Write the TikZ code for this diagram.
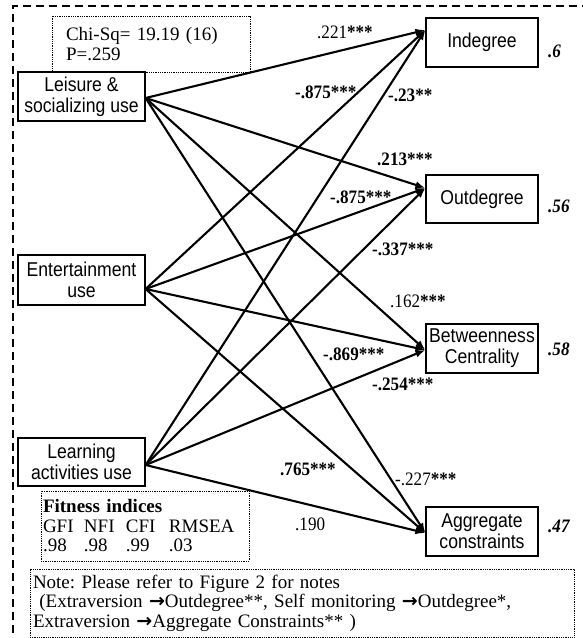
\documentclass[tikz,border=0pt]{standalone}
\usepackage{fontspec}
\setmainfont{Liberation Serif}
\newfontfamily\arialf[FakeStretch=0.88]{Liberation Sans}
\newfontfamily\timesn[FakeStretch=0.9]{Liberation Serif}
\newfontfamily\symf{DejaVu Sans}
\usetikzlibrary{arrows.meta,calc}
\newcommand\bxfont{\arialf\fontsize{20}{21}\selectfont}
\newcommand\cffont{\timesn\fontsize{19}{20}\selectfont}
\newcommand\infont{\frenchspacing\fontsize{19}{19.5}\selectfont}
\newcommand\rarr{{\symf\bfseries →}}
\begin{document}
\begin{tikzpicture}[x=1pt,y=-1pt,
  srcbox/.style={draw, line width=1.2pt, inner sep=0pt, align=center, font=\bxfont, minimum width=127pt},
  tgtbox/.style={draw, line width=1.2pt, inner sep=0pt, align=center, font=\bxfont, minimum width=112pt, minimum height=49pt},
  arr/.style={line width=2.1pt, -{Latex[length=10pt,width=7.5pt]}},
  coef/.style={anchor=base west, inner sep=0pt, font=\cffont},
  rsq/.style={anchor=base west, inner sep=0pt, font=\cffont\bfseries\itshape},
  infobox/.style={draw, densely dotted, line width=0.8pt, align=left, inner ysep=0pt, font=\infont},
  frame/.style={line width=1.1pt, dash pattern=on 8pt off 5pt}
]
\useasboundingbox (0,0) rectangle (583,638);
\draw[frame] (590,6) -- (13,6) -- (13,645);

% info boxes
\node[infobox, minimum width=198pt, minimum height=56pt, text width=170pt, inner xsep=14pt] (chi) at (151,44) {Chi-Sq= 19.19 (16)\\P=.259};
\node[infobox, minimum width=208pt, minimum height=70pt, text width=204pt, inner xsep=2pt] (fit) at (145,526)
  {\textbf{Fitness indices}\\
   \makebox[41pt][l]{GFI}\makebox[42pt][l]{NFI}\makebox[43pt][l]{CFI}RMSEA\\
   \makebox[41pt][l]{.98}\makebox[42pt][l]{.98}\makebox[43pt][l]{.99}.03};
\node[infobox, minimum width=544pt, minimum height=68pt, text width=538pt, inner xsep=3pt] (note) at (302,603)
  {Note: Please refer to Figure 2 for notes\\
   \ (Extraversion \rarr Outdegree**, Self monitoring \rarr Outdegree*,\\
   Extraversion \rarr Aggregate Constraints** )};

% source boxes
\node[srcbox, minimum height=49pt, fill=white] (leis) at (81.5,96.5) {Leisure \&\\socializing use};
\node[srcbox, minimum height=50pt] (ent) at (81.5,280) {Entertainment\\use};
\node[srcbox, minimum height=48pt] (learn) at (81.5,462) {Learning\\activities use};

% target boxes
\node[tgtbox] (indeg) at (482,42.5) {Indegree};
\node[tgtbox, minimum height=48pt] (outdeg) at (482,199) {Outdegree};
\node[tgtbox] (betw) at (482,348.5) {Betweenness\\Centrality};
\node[tgtbox] (aggr) at (482,531.5) {Aggregate\\constraints};

% connector end points
\coordinate (sL) at ($(leis.east)+(0,1.5)$);
\coordinate (sE) at ($(ent.east)+(0,9)$);
\coordinate (sN) at ($(learn.east)+(0,3)$);
\coordinate (tI) at ($(indeg.west)+(0,-12.5)$);
\coordinate (tO) at ($(outdeg.west)+(0,-11)$);
\coordinate (tB) at ($(betw.west)+(0,1.5)$);
\coordinate (tA) at ($(aggr.west)+(0,1.5)$);

\foreach \s in {sL,sE,sN}{
  \foreach \t in {tI,tO,tB,tA}{
    \draw[arr] (\s) -- (\t);
  }
}

% coefficients
\node[coef] (c1) at (317,38) {.221\textbf{***}};
\node[coef] (c2) at (295,98) {\textbf{-.875***}};
\node[coef] (c3) at (388,101) {\textbf{-.23**}};
\node[coef] (c4) at (377,165) {\textbf{.213***}};
\node[coef] (c5) at (330,203) {\textbf{-.875***}};
\node[coef] (c6) at (372,255) {\textbf{-.337***}};
\node[coef] (c7) at (390,307) {.162\textbf{***}};
\node[coef] (c8) at (323,360) {\textbf{-.869***}};
\node[coef] (c9) at (372,390) {\textbf{-.254***}};
\node[coef] (c10) at (280,475) {\textbf{.765***}};
\node[coef] (c11) at (395,485) {-.227\textbf{***}};
\node[coef] (c12) at (295,530) {.190};

% R squared
\node[rsq] (r1) at (548,57) {.6};
\node[rsq] (r2) at (548,212) {.56};
\node[rsq] (r3) at (548,355) {.58};
\node[rsq] (r4) at (548,532) {.47};
\end{tikzpicture}
\end{document}
